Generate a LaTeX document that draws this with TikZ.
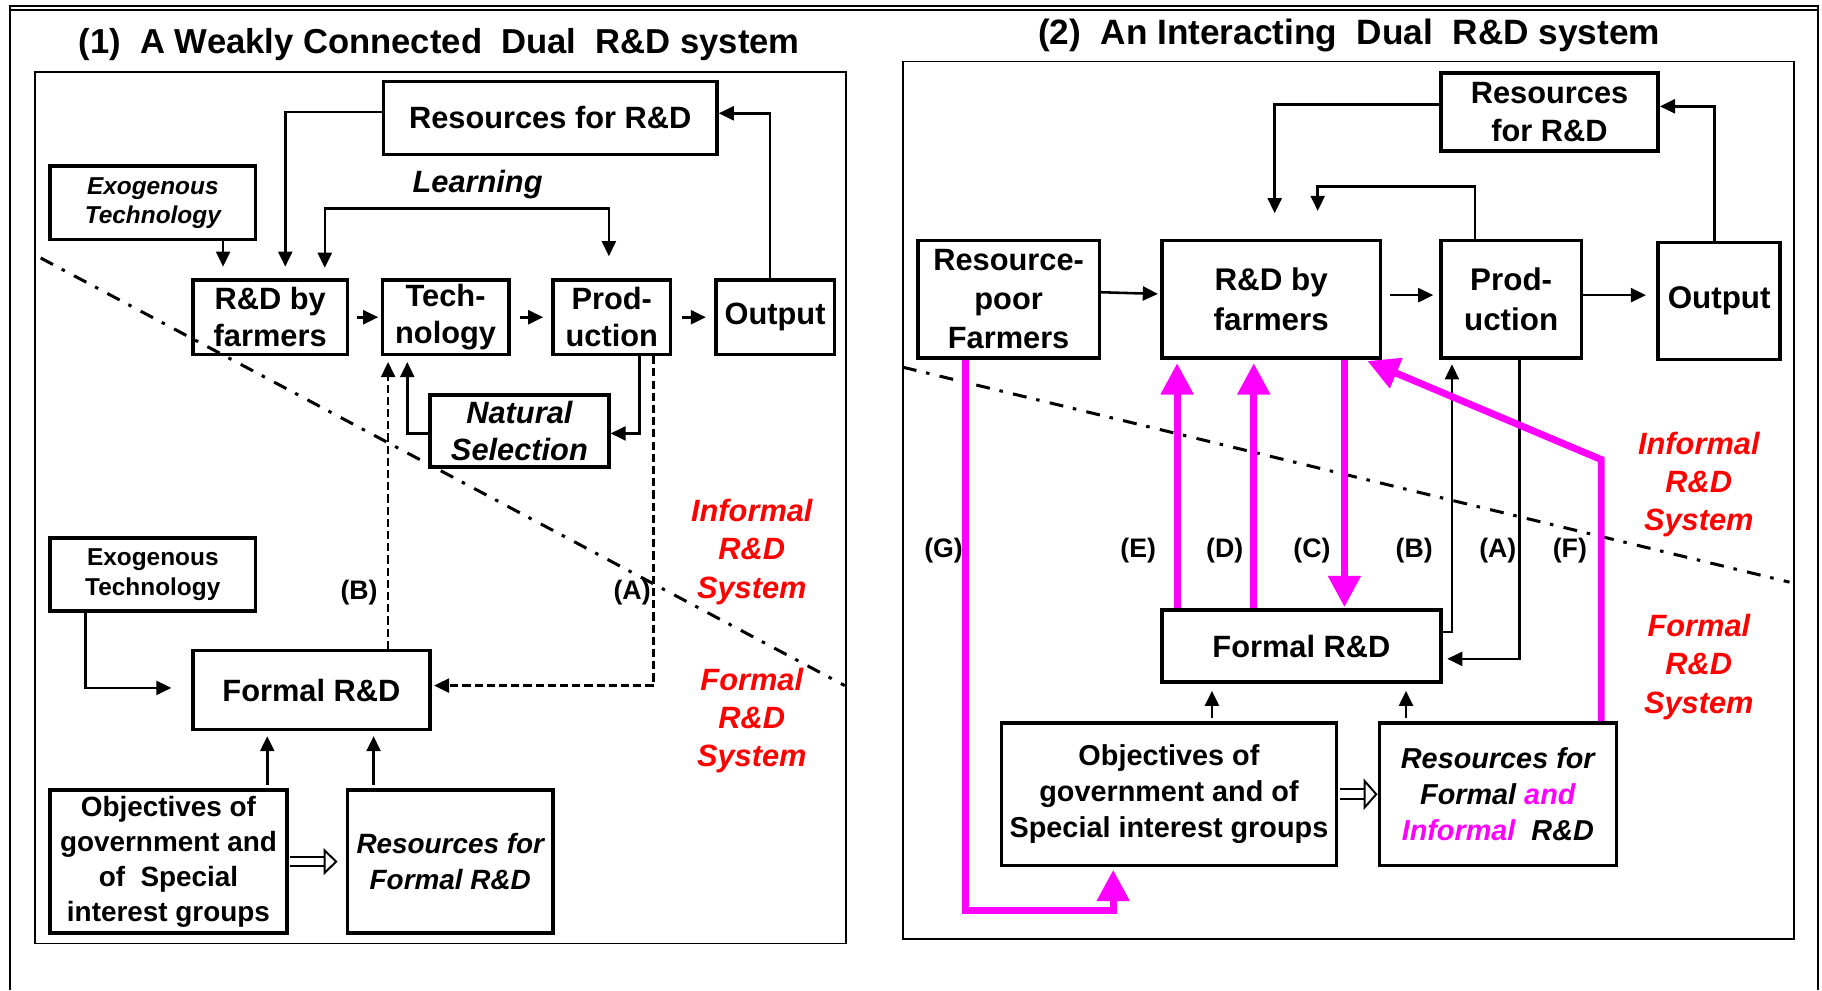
\documentclass[tikz,border=0pt]{standalone}
\usepackage{fontspec}
\setmainfont{Liberation Sans}
\usetikzlibrary{arrows.meta}
\definecolor{fuchsia}{RGB}{255,0,255}
\definecolor{zonered}{RGB}{255,0,0}

\begin{document}
\begin{tikzpicture}[x=1pt, y=-1pt,
  >={Triangle[length=13pt,width=12pt]},
  box/.style={draw, line width=3pt, inner sep=0pt, align=center,
              font=\fontsize{26.5}{32}\selectfont\bfseries},
  heading/.style={font=\fontsize{29.8}{34}\selectfont\bfseries},
  zone/.style={text=zonered, align=center,
               font=\fontsize{26.5}{33}\selectfont\bfseries\itshape},
  lbl/.style={font=\fontsize{23}{26}\selectfont\bfseries},
  link/.style={line width=2.2pt, ->},
  weak/.style={link, dash pattern=on 7pt off 3.5pt},
  push/.style={line width=6pt, fuchsia, -{Triangle[length=27pt,width=27pt]}},
  hollow/.style={double, double distance=6pt, line width=1.7pt,
                 -{Triangle[open, fill=white, length=12pt, width=23pt, line width=1.7pt]}},
  divider/.style={line width=2.6pt, dash pattern=on 12pt off 8.5pt on 3pt off 9pt},
  panel/.style={line width=1.5pt}
]
\useasboundingbox (0,0) rectangle (1568,852);

% outer frame and the two panels
\draw[line width=2.2pt] (8.6,852) -- (8.6,5) -- (1564.5,5) -- (1564.5,852);
\draw[line width=1.6pt] (8.6,8.8) -- (1564.5,8.8);
\draw[panel] (30,62) rectangle (728,812);
\draw[panel] (777,53) rectangle (1544,808);

\node[heading] (headL) at (378,38.5) {(1)\ \ A Weakly Connected\ \ Dual\ \ R\&D system};
\node[heading, font=\fontsize{30.3}{34}\selectfont\bfseries] (headR) at (1161,30.5) {(2)\ \ An Interacting\ \ Dual\ \ R\&D system};

% (1) weakly connected
\node[box, minimum width=287pt, minimum height=63pt] (resL) at (473.5,101.5) {Resources for R\&D};
\node[box, minimum width=177pt, minimum height=63pt,
      font=\fontsize{21}{25}\selectfont\bfseries\itshape] (exoL) at (131.5,174.5) {Exogenous\\Technology};
\node[font=\fontsize{26.5}{32}\selectfont\bfseries\itshape] (learnL) at (411,159) {Learning};
\node[box, minimum width=133pt, minimum height=64pt] (rdfL) at (232.5,273) {R\&D by\\farmers};
\node[box, minimum width=109pt, minimum height=64pt] (techL) at (383.5,273) {Tech-\\nology};
\node[box, minimum width=101pt, minimum height=64pt] (prodL) at (526.5,273) {Prod-\\uction};
\node[box, minimum width=102pt, minimum height=64pt] (outL) at (667,273) {Output};
\node[box, minimum width=154pt, minimum height=62pt,
      font=\fontsize{26.5}{32}\selectfont\bfseries\itshape] (natL) at (447,371) {Natural\\Selection};
\node[box, minimum width=177pt, minimum height=63pt,
      font=\fontsize{21}{26}\selectfont\bfseries] (extL) at (131.5,494.5) {Exogenous\\Technology};
\node[box, minimum width=204pt, minimum height=68pt] (formL) at (268,594) {Formal R\&D};
\node[box, minimum width=204pt, minimum height=123pt,
      font=\fontsize{24}{30}\selectfont\bfseries] (objL) at (145,741.5)
      {Objectives of\\government and\\of\ \ Special\\interest groups};
\node[box, minimum width=177pt, minimum height=123pt,
      font=\fontsize{24}{31}\selectfont\bfseries\itshape] (resfL) at (387.5,741.5) {Resources for\\Formal R\&D};

\node[zone] (infL) at (647,475) {Informal\\R\&D\\System};
\node[zone] (fmlL) at (647,620) {Formal\\R\&D\\System};
\node[lbl] (tagLB) at (309,510) {(B)};
\node[lbl] (tagLA) at (544,510) {(A)};

\coordinate (cutL1) at (35,222);
\coordinate (cutL2) at (727,590);
\draw[divider] (cutL1) -- (cutL2);

\draw[link, shorten >=10pt] ([yshift=5pt]resL.west) -| ([xshift=81pt]rdfL.north west);
\draw[link, shorten >=10pt] ([xshift=60.5pt]exoL.south) -- ([xshift=60.5pt]exoL.south |- rdfL.north);
\draw[link, <->, shorten <=9pt, shorten >=19pt] ([xshift=115pt]rdfL.north west) -- ++(0,-60) -| ([xshift=-2.5pt]prodL.north);
\draw[link, shorten <=7pt, shorten >=2pt] (rdfL.east) -- (techL.west);
\draw[link, shorten <=8pt, shorten >=7pt] (techL.east) -- (prodL.west);
\draw[link, shorten <=8pt, shorten >=7pt] (prodL.east) -- (outL.west);
\draw[link] ([xshift=-4.5pt]outL.north) |- ([yshift=4pt]resL.east);
\draw[link] ([xshift=24pt]prodL.south) |- ([yshift=-2pt]natL.east);
\draw[link, shorten >=5pt] ([yshift=-2pt]natL.west) -| ([xshift=-33pt]techL.south);
\draw[weak, shorten >=5pt] ([xshift=66pt]formL.north) -- ([xshift=66pt]formL.north |- techL.south);
\draw[weak, shorten >=2pt] ([xshift=36pt]prodL.south) |- ([yshift=4pt]formL.east);
\draw[link, shorten >=17pt] ([xshift=-58pt]extL.south) |- ([yshift=2pt]formL.west);
\draw[link, shorten <=3pt, shorten >=4pt] ([xshift=85pt]objL.north) -- ([xshift=85pt]objL.north |- formL.south);
\draw[link, shorten <=3pt, shorten >=4pt] ([xshift=-66pt]resfL.north) -- ([xshift=-66pt]resfL.north |- formL.south);
\draw[hollow, shorten <=1pt, shorten >=7pt] (objL.east) -- (resfL.west);

% (2) interacting
\node[box, minimum width=187pt, minimum height=67pt,
      font=\fontsize{26.5}{33}\selectfont\bfseries] (resR) at (1333.5,96.5) {Resources\\for R\&D};
\node[box, minimum width=156pt, minimum height=101pt,
      font=\fontsize{26.5}{33.5}\selectfont\bfseries] (rpfR) at (868,257.5) {Resource-\\poor\\Farmers};
\node[box, minimum width=188pt, minimum height=101pt,
      font=\fontsize{27}{34}\selectfont\bfseries] (rdfR) at (1094,257.5) {R\&D by\\farmers};
\node[box, minimum width=121pt, minimum height=101pt,
      font=\fontsize{27}{34}\selectfont\bfseries] (prodR) at (1300.5,257.5) {Prod-\\uction};
\node[box, minimum width=105pt, minimum height=101pt,
      font=\fontsize{27}{34}\selectfont\bfseries] (outR) at (1479.5,259) {Output};
\node[box, minimum width=240pt, minimum height=62pt] (formR) at (1120,556) {Formal R\&D};
\node[box, minimum width=288pt, minimum height=123pt,
      font=\fontsize{24.8}{31}\selectfont\bfseries] (objR) at (1006,683.5)
      {Objectives of\\government and of\\Special interest groups};
\node[box, minimum width=204pt, minimum height=123pt,
      font=\fontsize{24.8}{31}\selectfont\bfseries\itshape] (resfR) at (1289,683.5)
      {Resources for\\Formal {\color{fuchsia}and}\\{\color{fuchsia}Informal}\ \ R\&D};

\node[zone] (infR) at (1462,417) {Informal\\R\&D\\System};
\node[zone] (fmlR) at (1462,574) {Formal\\R\&D\\System};
\node[lbl] (tagRG) at (812,473.5) {(G)};
\node[lbl] (tagRE) at (979.5,473.5) {(E)};
\node[lbl] (tagRD) at (1054,473.5) {(D)};
\node[lbl] (tagRC) at (1129,473.5) {(C)};
\node[lbl] (tagRB) at (1217,473.5) {(B)};
\node[lbl] (tagRA) at (1289,473.5) {(A)};
\node[lbl] (tagRF) at (1351,473.5) {(F)};

\coordinate (cutR1) at (777,316);
\coordinate (cutR2) at (1540,501);
\draw[divider] (cutR1) -- (cutR2);

\draw[link, shorten >=22pt] ([yshift=6.5pt]resR.west) -| ([xshift=3pt]rdfR.north);
\draw[link, shorten >=24pt] ([xshift=-31pt]prodR.north) -- ++(0,-45) -| ([xshift=40pt]rdfR.north);
\draw[link] ([xshift=-4pt]outR.north) |- ([yshift=5pt]resR.east);
\draw[link, shorten >=2pt] ([yshift=6pt]rpfR.east) -- ([yshift=4.5pt]rdfR.west);
\draw[link, shorten <=7pt, shorten >=5pt] ([yshift=3.5pt]rdfR.east) -- ([yshift=3.5pt]prodR.west);
\draw[link, shorten >=9pt] ([yshift=3.5pt]prodR.east) -- ([yshift=5pt]outR.west);
\draw[link, shorten >=4pt] ([yshift=12pt]formR.east) -| ([xshift=-51pt]prodR.south);
\draw[link, shorten >=4pt] ([xshift=7pt]prodR.south) |- ([yshift=-11pt]formR.east);
\draw[link, shorten <=3pt, shorten >=6pt] ([xshift=37pt]objR.north) -- ([xshift=37pt]objR.north |- formR.south);
\draw[link, shorten <=3pt, shorten >=6pt] ([xshift=-79pt]resfR.north) -- ([xshift=-79pt]resfR.north |- formR.south);
\draw[hollow, double distance=7pt, -{Triangle[open, fill=white, length=12pt, width=27pt, line width=1.7pt]}, shorten <=2pt] (objR.east) -- (resfR.west);

\draw[push, shorten >=2pt] ([xshift=-37pt]rpfR.south) -- ++(0,474) -| ([xshift=-48pt]objR.south);
\draw[push, shorten >=3pt] ([xshift=-107pt]formR.north) -- ([xshift=-107pt]formR.north |- rdfR.south);
\draw[push, shorten >=3pt] ([xshift=-41pt]formR.north) -- ([xshift=-41pt]formR.north |- rdfR.south);
\draw[push, shorten >=1pt] ([xshift=63pt]rdfR.south) -- ([xshift=63pt]rdfR.south |- formR.north);
\draw[push, shorten >=3pt] ([xshift=89pt]resfR.north) -- ++(0,-225) -- ([xshift=80pt]rdfR.south);
\end{tikzpicture}
\end{document}
